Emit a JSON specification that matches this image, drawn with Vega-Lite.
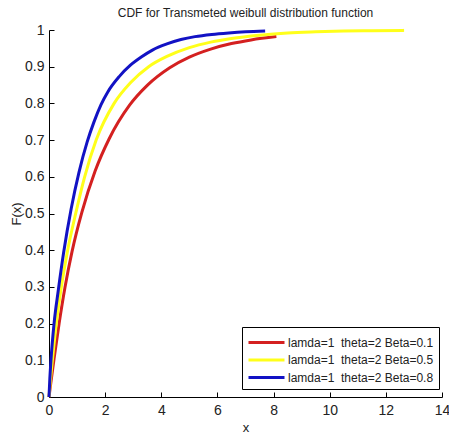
{
  "$schema": "https://vega.github.io/schema/vega-lite/v6.json",
  "width": 393,
  "height": 367,
  "autosize": {"type": "none"},
  "padding": {"left": 49, "top": 30, "right": 7, "bottom": 43},
  "background": "white",
  "config": {
    "view": {"stroke": null},
    "font": "Liberation Sans, sans-serif"
  },
  "title": {
    "text": "CDF for Transmeted weibull distribution function",
    "fontSize": 12,
    "fontWeight": "normal",
    "color": "#222222",
    "offset": 3,
    "font": "Liberation Sans, sans-serif"
  },
  "data": {
    "values": [
      {"x": 0, "y": 0, "s": "lamda=1  theta=2 Beta=0.1"},
      {"x": 0.05, "y": 0.03, "s": "lamda=1  theta=2 Beta=0.1"},
      {"x": 0.18, "y": 0.104, "s": "lamda=1  theta=2 Beta=0.1"},
      {"x": 0.36, "y": 0.2, "s": "lamda=1  theta=2 Beta=0.1"},
      {"x": 0.57, "y": 0.299, "s": "lamda=1  theta=2 Beta=0.1"},
      {"x": 0.82, "y": 0.396, "s": "lamda=1  theta=2 Beta=0.1"},
      {"x": 1.17, "y": 0.503, "s": "lamda=1  theta=2 Beta=0.1"},
      {"x": 1.64, "y": 0.615, "s": "lamda=1  theta=2 Beta=0.1"},
      {"x": 2.14, "y": 0.703, "s": "lamda=1  theta=2 Beta=0.1"},
      {"x": 2.87, "y": 0.795, "s": "lamda=1  theta=2 Beta=0.1"},
      {"x": 3.5, "y": 0.849, "s": "lamda=1  theta=2 Beta=0.1"},
      {"x": 4.3, "y": 0.897, "s": "lamda=1  theta=2 Beta=0.1"},
      {"x": 5.0, "y": 0.926, "s": "lamda=1  theta=2 Beta=0.1"},
      {"x": 5.76, "y": 0.948, "s": "lamda=1  theta=2 Beta=0.1"},
      {"x": 6.5, "y": 0.963, "s": "lamda=1  theta=2 Beta=0.1"},
      {"x": 7.2, "y": 0.973, "s": "lamda=1  theta=2 Beta=0.1"},
      {"x": 8.1, "y": 0.982, "s": "lamda=1  theta=2 Beta=0.1"},
      {"x": 0, "y": 0, "s": "lamda=1  theta=2 Beta=0.5"},
      {"x": 0.05, "y": 0.045, "s": "lamda=1  theta=2 Beta=0.5"},
      {"x": 0.12, "y": 0.1, "s": "lamda=1  theta=2 Beta=0.5"},
      {"x": 0.26, "y": 0.2, "s": "lamda=1  theta=2 Beta=0.5"},
      {"x": 0.44, "y": 0.3, "s": "lamda=1  theta=2 Beta=0.5"},
      {"x": 0.65, "y": 0.394, "s": "lamda=1  theta=2 Beta=0.5"},
      {"x": 0.96, "y": 0.503, "s": "lamda=1  theta=2 Beta=0.5"},
      {"x": 1.27, "y": 0.6, "s": "lamda=1  theta=2 Beta=0.5"},
      {"x": 1.68, "y": 0.7, "s": "lamda=1  theta=2 Beta=0.5"},
      {"x": 2.32, "y": 0.8, "s": "lamda=1  theta=2 Beta=0.5"},
      {"x": 2.9, "y": 0.856, "s": "lamda=1  theta=2 Beta=0.5"},
      {"x": 3.55, "y": 0.9, "s": "lamda=1  theta=2 Beta=0.5"},
      {"x": 4.2, "y": 0.928, "s": "lamda=1  theta=2 Beta=0.5"},
      {"x": 5.0, "y": 0.952, "s": "lamda=1  theta=2 Beta=0.5"},
      {"x": 5.76, "y": 0.967, "s": "lamda=1  theta=2 Beta=0.5"},
      {"x": 6.5, "y": 0.977, "s": "lamda=1  theta=2 Beta=0.5"},
      {"x": 7.5, "y": 0.986, "s": "lamda=1  theta=2 Beta=0.5"},
      {"x": 8.5, "y": 0.992, "s": "lamda=1  theta=2 Beta=0.5"},
      {"x": 9.5, "y": 0.995, "s": "lamda=1  theta=2 Beta=0.5"},
      {"x": 10.5, "y": 0.997, "s": "lamda=1  theta=2 Beta=0.5"},
      {"x": 11.5, "y": 0.998, "s": "lamda=1  theta=2 Beta=0.5"},
      {"x": 12.65, "y": 0.999, "s": "lamda=1  theta=2 Beta=0.5"},
      {"x": 0, "y": 0, "s": "lamda=1  theta=2 Beta=0.8"},
      {"x": 0.03, "y": 0.05, "s": "lamda=1  theta=2 Beta=0.8"},
      {"x": 0.07, "y": 0.1, "s": "lamda=1  theta=2 Beta=0.8"},
      {"x": 0.18, "y": 0.2, "s": "lamda=1  theta=2 Beta=0.8"},
      {"x": 0.33, "y": 0.29, "s": "lamda=1  theta=2 Beta=0.8"},
      {"x": 0.52, "y": 0.393, "s": "lamda=1  theta=2 Beta=0.8"},
      {"x": 0.79, "y": 0.513, "s": "lamda=1  theta=2 Beta=0.8"},
      {"x": 1.07, "y": 0.613, "s": "lamda=1  theta=2 Beta=0.8"},
      {"x": 1.36, "y": 0.695, "s": "lamda=1  theta=2 Beta=0.8"},
      {"x": 1.6, "y": 0.749, "s": "lamda=1  theta=2 Beta=0.8"},
      {"x": 1.85, "y": 0.796, "s": "lamda=1  theta=2 Beta=0.8"},
      {"x": 2.1, "y": 0.832, "s": "lamda=1  theta=2 Beta=0.8"},
      {"x": 2.5, "y": 0.873, "s": "lamda=1  theta=2 Beta=0.8"},
      {"x": 2.9, "y": 0.904, "s": "lamda=1  theta=2 Beta=0.8"},
      {"x": 3.3, "y": 0.927, "s": "lamda=1  theta=2 Beta=0.8"},
      {"x": 3.7, "y": 0.946, "s": "lamda=1  theta=2 Beta=0.8"},
      {"x": 4.2, "y": 0.962, "s": "lamda=1  theta=2 Beta=0.8"},
      {"x": 4.7, "y": 0.974, "s": "lamda=1  theta=2 Beta=0.8"},
      {"x": 5.2, "y": 0.982, "s": "lamda=1  theta=2 Beta=0.8"},
      {"x": 5.8, "y": 0.988, "s": "lamda=1  theta=2 Beta=0.8"},
      {"x": 6.4, "y": 0.992, "s": "lamda=1  theta=2 Beta=0.8"},
      {"x": 7.0, "y": 0.995, "s": "lamda=1  theta=2 Beta=0.8"},
      {"x": 7.7, "y": 0.997, "s": "lamda=1  theta=2 Beta=0.8"}
    ]
  },
  "mark": {"type": "line", "strokeWidth": 3, "interpolate": "monotone"},
  "encoding": {
    "x": {
      "field": "x",
      "type": "quantitative",
      "scale": {"domain": [0, 14], "nice": false, "zero": false},
      "axis": {
        "title": "x",
        "values": [0, 2, 4, 6, 8, 10, 12, 14],
        "format": "~g",
        "labelFlush": false,
        "grid": false,
        "domainColor": "#000000",
        "tickColor": "#000000",
        "tickSize": -5,
        "labelPadding": 11,
        "labelFontSize": 14,
        "labelColor": "#222222",
        "titleFontSize": 13,
        "titleFontWeight": "normal",
        "titleColor": "#222222",
        "titlePadding": 4,
        "labelFont": "Liberation Sans, sans-serif",
        "titleFont": "Liberation Sans, sans-serif"
      }
    },
    "y": {
      "field": "y",
      "type": "quantitative",
      "scale": {"domain": [0, 1], "nice": false},
      "axis": {
        "title": "F(x)",
        "values": [0, 0.1, 0.2, 0.3, 0.4, 0.5, 0.6, 0.7, 0.8, 0.9, 1],
        "format": "~g",
        "labelFlush": false,
        "grid": false,
        "domainColor": "#000000",
        "tickColor": "#000000",
        "tickSize": -5,
        "labelPadding": 10,
        "labelFontSize": 14,
        "labelColor": "#222222",
        "titleFontSize": 13,
        "titleFontWeight": "normal",
        "titleColor": "#222222",
        "titlePadding": 1,
        "labelFont": "Liberation Sans, sans-serif",
        "titleFont": "Liberation Sans, sans-serif"
      }
    },
    "color": {
      "field": "s",
      "type": "nominal",
      "scale": {
        "domain": ["lamda=1  theta=2 Beta=0.1", "lamda=1  theta=2 Beta=0.5", "lamda=1  theta=2 Beta=0.8"],
        "range": ["#d42020", "#ffff1a", "#1212c4"]
      },
      "legend": {
        "title": null,
        "orient": "none",
        "legendX": 193,
        "legendY": 297,
        "symbolType": "M-2,0H2",
        "symbolSize": 324,
        "symbolStrokeWidth": 3,
        "symbolOffset": 9,
        "strokeColor": "#000000",
        "fillColor": "#ffffff",
        "padding": 5,
        "rowPadding": 0.5,
        "labelFontSize": 12,
        "labelColor": "#222222",
        "labelFont": "Liberation Sans, sans-serif",
        "labelOffset": 11,
        "labelLimit": 300,
        "labelExpr": "replace(datum.label, '  ', '\u00a0 ')"
      }
    }
  }
}
